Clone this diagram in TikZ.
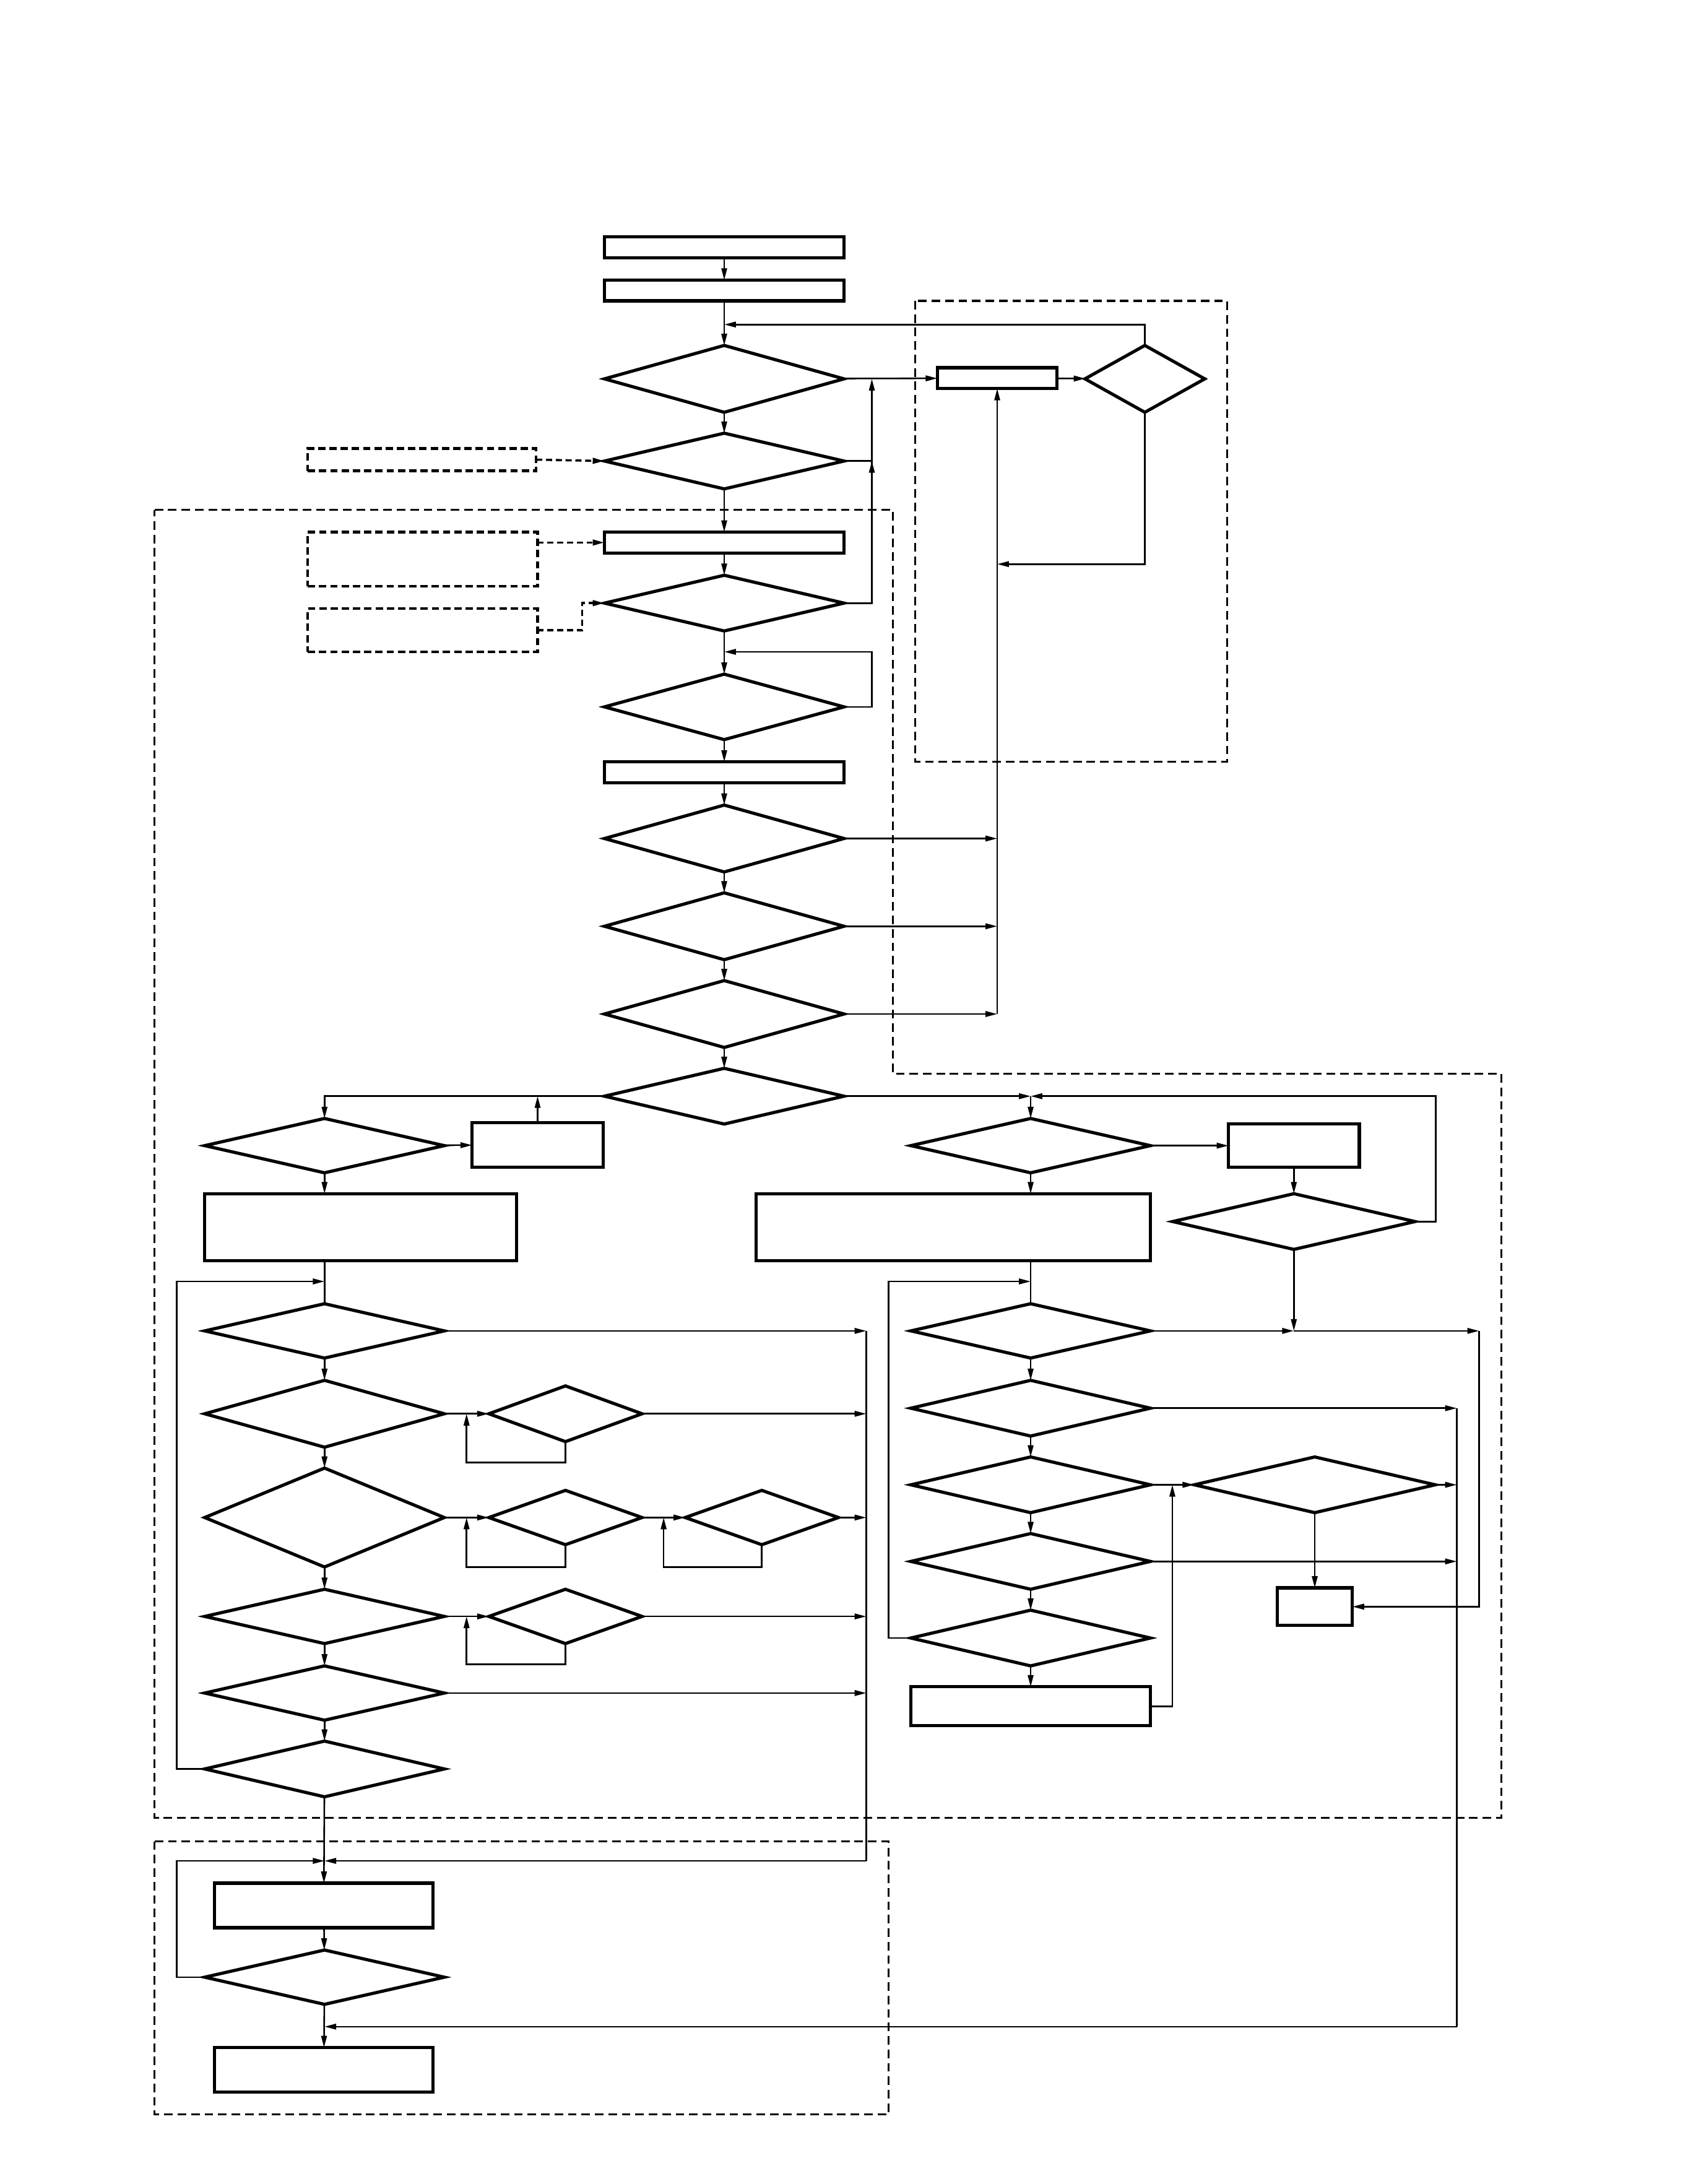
\documentclass[tikz,border=0pt]{standalone}
\usepackage{tikz}
\usetikzlibrary{arrows.meta, calc, shapes.geometric}

\begin{document}
\begin{tikzpicture}[x=0.02cm, y=-0.02cm, >={Triangle[length=4.8pt,width=2.3pt]},
    box/.style 2 args={draw, rectangle, line width=1.3pt, inner sep=0pt, outer sep=0pt,
                minimum width=#1*0.02cm, minimum height=#2*0.02cm},
    cond/.style 2 args={draw, diamond, line width=1.3pt, inner sep=0pt, outer sep=0pt,
                minimum width=#1*0.02cm, minimum height=#2*0.02cm},
    note/.style 2 args={box={#1}{#2}, line width=1.1pt, dash pattern=on 3pt off 1.6pt},
    flow/.style={->, line width=0.65pt},
    link/.style={line width=0.65pt},
    noteflow/.style={->, line width=0.9pt, dash pattern=on 2.5pt off 1.5pt},
    frame/.style={line width=0.8pt, dash pattern=on 3.5pt off 2pt}]
  \useasboundingbox (0,0) rectangle (1212,1568);

  \draw[frame] (657,216) rectangle (881,547);
  \draw[frame] (111,366) -- (641,366) -- (641,771) -- (1078,771) -- (1078,1305)
    -- (111,1305) -- cycle;
  \draw[frame] (111,1322) rectangle (638,1518);

  \node[box={172}{15}] (init) at (520,177.5) {};
  \node[box={172}{15}] (setup) at (520,208.5) {};
  \node[cond={172}{48}] (chkA) at (520,272) {};
  \node[cond={172}{40}] (chkB) at (520,331) {};
  \node[box={172}{15}] (prep) at (520,389.5) {};
  \node[cond={172}{40}] (chkC) at (520,433) {};
  \node[cond={172}{47}] (waitA) at (520,507.5) {};
  \node[box={172}{15}] (load) at (520,554.5) {};
  \node[cond={172}{48}] (chkD) at (520,602) {};
  \node[cond={172}{48}] (chkE) at (520,665) {};
  \node[cond={172}{48}] (chkF) at (520,728) {};
  \node[cond={172}{40}] (split) at (520,787) {};

  \node[note={164}{16}] (infoA) at (303,330) {};
  \node[note={165}{39}] (infoB) at (303.5,401.5) {};
  \node[note={165}{31}] (infoC) at (303.5,452.5) {};

  \node[box={86}{15}] (fault) at (716,271.5) {};
  \node[cond={86}{48}] (retry) at (822,272) {};

  \node[cond={172}{39}] (lsel) at (233,822.5) {};
  \node[box={94}{32}] (lfix) at (386,822) {};
  \node[box={224}{48}] (lrun) at (259,881) {};
  \node[cond={172}{39}] (lq1) at (233,955.5) {};
  \node[cond={172}{48}] (lq2) at (233,1015) {};
  \node[cond={110}{40}] (lw1) at (406,1015) {};
  \node[cond={172}{71}] (lq3) at (233,1089.5) {};
  \node[cond={110}{39}] (lw2) at (406,1089.5) {};
  \node[cond={110}{39}] (lw3) at (547,1089.5) {};
  \node[cond={172}{39}] (lq4) at (233,1160.5) {};
  \node[cond={110}{39}] (lw4) at (406,1160.5) {};
  \node[cond={172}{39}] (lq5) at (233,1215.5) {};
  \node[cond={172}{40}] (lq6) at (233,1270) {};

  \node[box={157}{32}] (stop) at (232.5,1368) {};
  \node[cond={172}{39}] (done) at (233,1419.5) {};
  \node[box={157}{32}] (finish) at (232.5,1486) {};

  \node[cond={172}{39}] (rsel) at (740,822.5) {};
  \node[box={94}{31}] (rfix) at (929,822.5) {};
  \node[cond={174}{40}] (rchk) at (929,877) {};
  \node[box={283}{48}] (rrun) at (684.5,881) {};
  \node[cond={172}{39}] (rq1) at (740,955.5) {};
  \node[cond={172}{40}] (rq2) at (740,1011) {};
  \node[cond={172}{40}] (rq3) at (740,1066) {};
  \node[cond={173}{40}] (rw) at (944,1066) {};
  \node[cond={172}{40}] (rq4) at (740,1121) {};
  \node[cond={172}{40}] (rq5) at (740,1176) {};
  \node[box={54}{27}] (alarm) at (944,1153.5) {};
  \node[box={172}{28}] (radj) at (740,1225) {};

  \coordinate (top) at (520,233);
  \coordinate (back) at (716,405);
  \coordinate (rise) at (626,272);
  \coordinate (loopA) at (520,468);
  \coordinate (fork) at (740,787);
  \coordinate (lback) at (233,920);
  \coordinate (rback) at (740,920);
  \coordinate (lbus) at (622,1336);
  \coordinate (merge) at (233,1336);
  \coordinate (rbus) at (1062,955.5);
  \coordinate (obus) at (1046,1455);

  \foreach \a/\b in {init/setup, setup/chkA, chkA/chkB, chkB/prep, prep/chkC,
      chkC/waitA, waitA/load, load/chkD, chkD/chkE, chkE/chkF, chkF/split,
      lq1/lq2, lq2/lq3, lq3/lq4, lq4/lq5, lq5/lq6, lq6/stop, stop/done, done/finish,
      rq1/rq2, rq2/rq3, rq3/rq4, rq4/rq5, rq5/radj, rsel/rfix, rfix/rchk, lsel/lfix,
      chkA/fault, fault/retry, lq2/lw1, lq3/lw2, lw2/lw3, lq4/lw4, rq3/rw, rw/alarm}
    \draw[flow] (\a) -- (\b);

  \draw[flow] (retry.north) |- (top);
  \draw[flow] (retry.south) |- (back);
  \draw[flow] (chkF.east -| fault.south) -- (fault.south);
  \foreach \q in {chkD, chkE, chkF}
    \draw[flow] (\q.east) -- (\q.east -| fault.south);
  \draw[link] (chkB.east) -- (chkB.east -| rise);
  \draw[flow] (chkC.east) -| (rise);
  \draw[flow] (chkC.east) -| (chkB.east -| rise);
  \draw[flow] (waitA.east) -- ++(20,0) |- (loopA);

  \draw[noteflow] (infoA.east) -- (chkB.west);
  \draw[noteflow] (infoB.east |- prep.west) -- (prep.west);
  \draw[noteflow] (infoC.east) -- ++(32,0) |- (chkC.west);

  \draw[flow] (split.west) -| (lsel.north);
  \draw[flow] (lfix.north) -- (lfix.north |- split.west);
  \draw[flow] (lsel.south) -- (lsel.south |- lrun.north);
  \draw[link] (lq1.north |- lrun.south) -- (lq1.north);
  \draw[flow] (lq6.west) -- ++(-20,0) |- (lback);
  \draw[flow] (lq1.east) -- (lq1.east -| lbus);
  \draw[flow] (lw1.east) -- (lw1.east -| lbus);
  \draw[flow] (lw3.east) -- (lw3.east -| lbus);
  \draw[flow] (lw4.east) -- (lw4.east -| lbus);
  \draw[flow] (lq5.east) -- (lq5.east -| lbus);
  \draw[link] (lq1.east -| lbus) -- (lbus);
  \draw[flow] (lbus) -- (merge);
  \draw[flow] (done.west) -- ++(-20,0) |- (merge);
  \draw[flow] (lw1.south) -- ++(0,15) -| ($(lq2.east)!.5!(lw1.west)$);
  \draw[flow] (lw2.south) -- ++(0,16) -| ($(lq3.east)!.5!(lw2.west)$);
  \draw[flow] (lw3.south) -- ++(0,16) -| ($(lw2.east)!.5!(lw3.west)$);
  \draw[flow] (lw4.south) -- ++(0,15) -| ($(lq4.east)!.5!(lw4.west)$);

  \draw[flow] (split.east) -- (fork);
  \draw[flow] (rchk.east) -- ++(15,0) |- (fork);
  \draw[flow] (fork) -- (rsel.north);
  \draw[flow] (rsel.south) -- (rsel.south |- rrun.north);
  \draw[link] (rq1.north |- rrun.south) -- (rq1.north);
  \draw[flow] (rq5.west) -- ++(-16,0) |- (rback);
  \draw[flow] (rq1.east) -- (rq1.east -| rchk.south);
  \draw[flow] (rchk.south) -- (rchk.south |- rq1.east);
  \draw[flow] (rq1.east -| rchk.south) -- (rbus);
  \draw[flow] (rbus) |- (alarm.east);
  \draw[flow] (rq2.east) -- (rq2.east -| obus);
  \draw[flow] (rw.east) -- (rw.east -| obus);
  \draw[flow] (rq4.east) -- (rq4.east -| obus);
  \draw[link] (rq2.east -| obus) -- (obus);
  \draw[flow] (obus) -- (obus -| done.south);
  \draw[flow] (radj.east) -| ($(rq3.east)!.5!(rw.west)$);
\end{tikzpicture}
\end{document}
